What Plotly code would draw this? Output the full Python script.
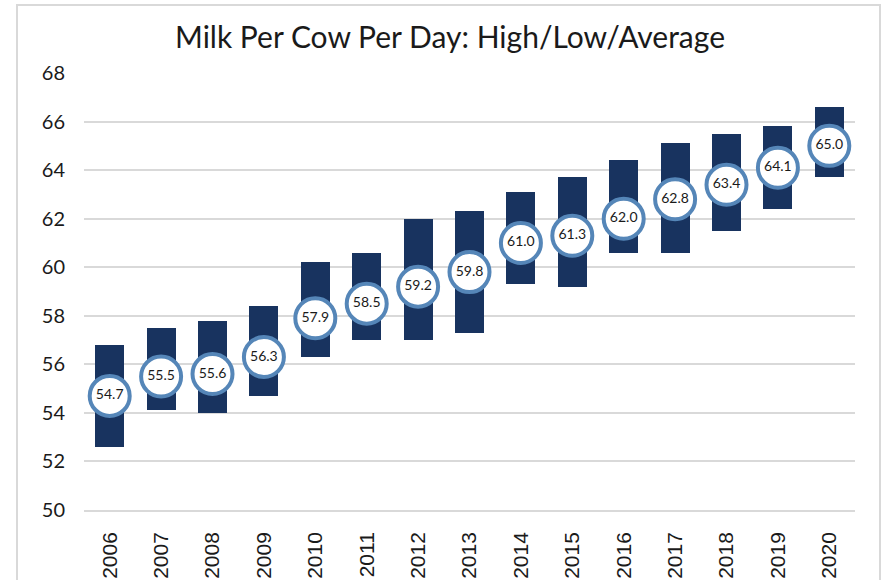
import plotly.graph_objects as go

# Daily milk yield per cow: yearly high, low and average
years = ["2006", "2007", "2008", "2009", "2010", "2011", "2012", "2013",
         "2014", "2015", "2016", "2017", "2018", "2019", "2020"]
high = [56.8, 57.5, 57.8, 58.4, 60.2, 60.6, 62.0, 62.3,
        63.1, 63.7, 64.4, 65.1, 65.5, 65.8, 66.6]
low = [52.6, 54.1, 54.0, 54.7, 56.3, 57.0, 57.0, 57.3,
       59.3, 59.2, 60.6, 60.6, 61.5, 62.4, 63.7]
average = [54.7, 55.5, 55.6, 56.3, 57.9, 58.5, 59.2, 59.8,
           61.0, 61.3, 62.0, 62.8, 63.4, 64.1, 65.0]
y_ticks = [50, 52, 54, 56, 58, 60, 62, 64, 66, 68]

NAVY = "#18335f"
RING = "#5586b8"
GRID = "#d9d9d9"

W, H = 883, 580
L, R, T, B = 84, 28, 73, 70

fig = go.Figure()

# High-low range as floating bars
fig.add_trace(go.Bar(
    x=years,
    y=[h - l for h, l in zip(high, low)],
    base=low,
    width=0.565,
    marker=dict(color=NAVY, line=dict(width=0)),
    hoverinfo="skip",
))

# Average as labelled rings
fig.add_trace(go.Scatter(
    x=years,
    y=average,
    mode="markers+text",
    text=[f"{v:.1f}" for v in average],
    textposition="middle center",
    textfont=dict(family="Lato", size=14, color="#1a1a1a"),
    marker=dict(size=40, color="white", line=dict(color=RING, width=4)),
    cliponaxis=False,
))


def px_x(p):
    return (p - L) / (W - L - R)


def px_y(p):
    return (H - B - p) / (H - T - B)


# Light frame around the chart
fig.add_shape(type="rect", xref="paper", yref="paper",
              x0=px_x(17), x1=px_x(880), y0=px_y(600), y1=px_y(5),
              line=dict(color=GRID, width=2), fillcolor="rgba(0,0,0,0)",
              layer="below")

fig.update_layout(
    width=W, height=H,
    margin=dict(l=L, r=R, t=T, b=B, autoexpand=False),
    paper_bgcolor="white",
    plot_bgcolor="white",
    showlegend=False,
    bargap=0,
    title=dict(
        text="Milk Per Cow Per Day: High/Low/Average",
        font=dict(family="Lato", size=30, color="#1a1a1a"),
        x=450 / W, xanchor="center", xref="container",
        y=1 - 37 / H, yanchor="middle", yref="container",
    ),
    xaxis=dict(
        type="category",
        range=[-0.5, len(years) - 0.5],
        automargin=False,
        tickangle=-90,
        tickfont=dict(family="Liberation Sans", size=21, color="#1a1a1a"),
        ticklabelstandoff=12,
        showgrid=False,
        showline=True,
        linecolor=GRID,
        linewidth=1.5,
        ticks="",
        fixedrange=True,
    ),
    yaxis=dict(
        range=[50, 68],
        automargin=False,
        tickvals=y_ticks,
        tickfont=dict(family="Lato", size=20, color="#1a1a1a"),
        ticklabelstandoff=18,
        showgrid=True,
        gridcolor=GRID,
        gridwidth=1.5,
        zeroline=False,
        showline=False,
        ticks="",
        fixedrange=True,
    ),
)

fig.write_html("out.html")
